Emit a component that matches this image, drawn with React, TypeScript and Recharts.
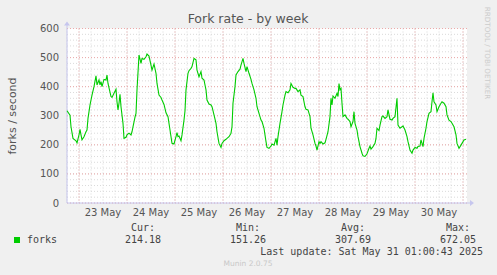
import { LineChart, Line, XAxis, YAxis, CartesianGrid, ReferenceLine } from "recharts";

const slots = [
  0, 3, 4, 6, 9, 10, 12, 13, 14, 15, 17, 19, 20, 21, 23, 25, 27, 29, 30, 32, 33, 34, 35, 37, 39, 40,
  41, 44, 45, 47, 49, 50, 51, 52, 53, 54, 56, 57, 59, 60, 62, 64, 65, 66, 68, 69, 70, 72, 74, 75, 77,
  79, 80, 82, 84, 85, 87, 89, 90, 92, 94, 95, 97, 99, 101, 103, 105, 107, 109, 110, 111, 112, 114,
  115, 117, 118, 119, 121, 122, 124, 125, 127, 129, 130, 132, 134, 135, 137, 139, 140, 142, 144, 145,
  147, 149, 150, 152, 154, 155, 157, 159, 160, 162, 164, 165, 166, 168, 169, 171, 173, 174, 176, 177,
  179, 180, 182, 184, 185, 187, 189, 190, 192, 194, 195, 197, 199, 200, 202, 204, 205, 207, 209, 210,
  211, 213, 215, 216, 218, 219, 221, 223, 224, 226, 228, 229, 231, 233, 234, 236, 238, 239, 241, 243,
  244, 246, 248, 249, 250, 252, 253, 254, 256, 258, 259, 261, 263, 264, 265, 266, 268, 270, 271, 272,
  273, 274, 275, 276, 278, 280, 281, 283, 284, 286, 287, 288, 290, 291, 293, 295, 296, 298, 300, 302,
  303, 304, 306, 308, 309, 310, 312, 313, 315, 316, 318, 320, 321, 323, 325, 326, 328, 330, 331, 333,
  335, 336, 338, 340, 341, 343, 345, 346, 348, 350, 351, 353, 354, 356, 357, 359, 360, 362, 364, 365,
  366, 367, 369, 370, 372, 374, 375, 377, 379, 380, 382, 384, 385, 387, 389, 390, 392, 394, 395, 397,
  399,
];

const forks = [
  317, 302, 262, 222, 214, 207, 234, 253, 234, 217, 228, 245, 251, 291, 337, 371, 400, 437, 406, 423,
  406, 417, 400, 425, 423, 440, 411, 366, 363, 377, 391, 348, 320, 343, 374, 331, 274, 222, 226, 234,
  240, 234, 245, 262, 295, 308, 389, 509, 480, 497, 494, 503, 512, 505, 474, 457, 478, 446, 411, 371,
  363, 354, 339, 310, 297, 251, 205, 203, 228, 242, 228, 230, 214, 234, 285, 317, 389, 446, 455, 463,
  469, 497, 492, 457, 434, 452, 429, 423, 389, 354, 340, 337, 331, 303, 274, 245, 205, 191, 205, 214,
  219, 222, 228, 240, 262, 343, 400, 440, 452, 460, 474, 497, 480, 452, 469, 446, 425, 411, 389, 360,
  331, 308, 285, 280, 257, 211, 191, 188, 196, 203, 199, 222, 199, 228, 274, 314, 337, 371, 383, 379,
  389, 411, 398, 394, 394, 383, 389, 371, 366, 331, 322, 320, 297, 257, 234, 205, 196, 182, 211, 205,
  211, 203, 207, 219, 245, 297, 360, 337, 368, 360, 377, 366, 411, 389, 394, 343, 297, 303, 291, 288,
  280, 262, 280, 314, 274, 251, 228, 194, 171, 162, 160, 169, 188, 196, 185, 194, 205, 222, 257, 249,
  268, 297, 299, 291, 297, 320, 288, 285, 291, 297, 360, 268, 257, 262, 265, 251, 228, 211, 182, 171,
  182, 191, 188, 194, 196, 217, 194, 222, 257, 280, 308, 314, 348, 379, 348, 337, 314, 331, 343, 348,
  343, 331, 303, 285, 280, 274, 262, 234, 205, 188, 199, 205, 217, 219,
];

const dayTicks = [36, 84, 132, 180, 228, 276, 324, 372];
const dayLabels = ["23 May", "24 May", "25 May", "26 May", "27 May", "28 May", "29 May", "30 May"];
const midnights = [12, 60, 108, 156, 204, 252, 300, 348, 396];
const sixHours = Array.from({ length: 34 }, (_, k) => k * 12);
const yTicks = [0, 100, 200, 300, 400, 500, 600];
const yMinor = Array.from({ length: 31 }, (_, k) => k * 20);

const stats = [
  { head: "Cur:", value: "214.18", x: 161 },
  { head: "Min:", value: "151.26", x: 266 },
  { head: "Avg:", value: "307.69", x: 371 },
  { head: "Max:", value: "672.05", x: 476 },
];

const data = slots.map((s, i) => ({ slot: s, forks: forks[i] }));

const AXIS = "#c6c6ee";
const SANS = "DejaVu Sans, sans-serif";
const MONO = "DejaVu Sans Mono, monospace";

const arrowRight = (props: any) => {
  const { x, y, width } = props.viewBox;
  const e = x + width;
  return (
    <g>
      <line x1={e} y1={y} x2={e + 4} y2={y} stroke={AXIS} />
      <polygon points={`${e + 3},${y - 3} ${e + 7},${y} ${e + 3},${y + 3}`} fill={AXIS} />
    </g>
  );
};

const arrowUp = (props: any) => {
  const { x, y } = props.viewBox;
  return (
    <g>
      <line x1={x} y1={y} x2={x} y2={y - 4} stroke={AXIS} />
      <polygon points={`${x - 3},${y - 3} ${x},${y - 7} ${x + 3},${y - 3}`} fill={AXIS} />
    </g>
  );
};

export default function App() {
  return (
    <div
      style={{
        position: "fixed",
        left: 0,
        top: 0,
        width: 497,
        height: 275,
        background: "#f0f0f0",
        fontFamily: SANS,
      }}
    >
      <LineChart
        width={497}
        height={275}
        data={data}
        margin={{ top: 28.5, right: 30, bottom: 52, left: 0 }}
      >
        <CartesianGrid
          fill="#ffffff"
          stroke="#dadada"
          strokeDasharray="1 2"
          horizontalValues={yMinor}
          verticalValues={sixHours}
        />
        <CartesianGrid
          stroke="#ecaaaa"
          strokeDasharray="1 2"
          horizontalValues={yTicks}
          verticalValues={midnights}
        />
        <XAxis
          dataKey="slot"
          type="number"
          domain={[0, 400]}
          ticks={dayTicks}
          tickFormatter={(v: number) => dayLabels[dayTicks.indexOf(v)]}
          axisLine={false}
          tickLine={false}
          tickSize={4}
          height={20}
          interval={0}
          tick={{ fill: "#555", fontSize: 10, fontFamily: SANS }}
        />
        <YAxis
          type="number"
          domain={[0, 600]}
          ticks={yTicks}
          axisLine={false}
          tickLine={false}
          width={67}
          interval={0}
          tick={{ fill: "#555", fontSize: 10, fontFamily: SANS }}
        />
        <ReferenceLine y={0} stroke={AXIS} label={arrowRight} />
        <ReferenceLine x={0} stroke={AXIS} label={arrowUp} />
        <Line
          type="linear"
          dataKey="forks"
          stroke="#00cc00"
          strokeWidth={1.1}
          dot={false}
          isAnimationActive={false}
        />
      </LineChart>
      <svg
        width={497}
        height={275}
        style={{ position: "absolute", left: 0, top: 0, pointerEvents: "none" }}
      >
        <text x={248} y={23} textAnchor="middle" fontSize={12.5} fill="#555" fontFamily={SANS}>
          Fork rate - by week
        </text>
        <text
          x={0}
          y={0}
          transform="translate(12 116) rotate(-90)"
          textAnchor="middle"
          dominantBaseline="central"
          fontSize={11}
          fill="#555"
          fontFamily={SANS}
        >
          forks / second
        </text>
        <text
          x={0}
          y={0}
          transform="translate(487 53) rotate(90)"
          textAnchor="middle"
          dominantBaseline="central"
          fontSize={7.2}
          fill="#cccccc"
          fontFamily={SANS}
        >
          RRDTOOL / TOBI OETIKER
        </text>
        <rect x={14} y={237} width={6} height={6} fill="#00cc00" />
        <text x={27} y={243} fontSize={10} fill="#444" fontFamily={MONO}>
          forks
        </text>
        {stats.map((s) => (
          <g key={s.head}>
            <text x={s.x - 6} y={231} textAnchor="end" fontSize={10} fill="#444" fontFamily={MONO}>
              {s.head}
            </text>
            <text x={s.x} y={243} textAnchor="end" fontSize={10} fill="#444" fontFamily={MONO}>
              {s.value}
            </text>
          </g>
        ))}
        <text x={483} y={255} textAnchor="end" fontSize={10} fill="#444" fontFamily={MONO}>
          Last update: Sat May 31 01:00:43 2025
        </text>
        <text x={248} y={266} textAnchor="middle" fontSize={7.5} fill="#c8c8c8" fontFamily={SANS}>
          Munin 2.0.75
        </text>
      </svg>
    </div>
  );
}
